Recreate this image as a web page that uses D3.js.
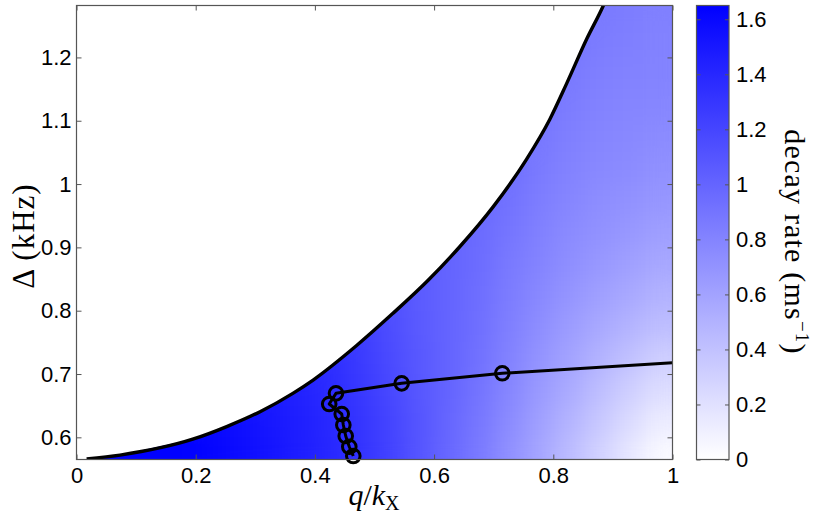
<!DOCTYPE html>
<html><head><meta charset="utf-8">
<script src="https://cdn.jsdelivr.net/npm/d3@7"></script>
<style>
body{margin:0;background:#fff;}
svg{display:block;font-family:"Liberation Sans",Arial,Helvetica,sans-serif;}
</style></head>
<body>
<svg id="chart" width="813" height="527"></svg>
<script>
// ---------- data ----------
// heatmap cell centres (q / k_X) and (Delta in kHz); cells are 0.05 x 0.05
const qCenters = [0.025,0.075,0.125,0.175,0.225,0.275,0.325,0.375,0.425,0.475,0.525,0.575,0.625,0.675,0.725,0.775,0.825,0.875,0.925,0.975];
const deltaCenters = [0.575,0.625,0.675,0.725,0.775,0.825,0.875,0.925,0.975,1.025,1.075,1.125,1.175,1.225,1.275];
// decay rate (ms^-1), one row per Delta, null = no data (above boundary)
const decayRate = [
 [1.65,1.65,1.65,1.65,1.62,1.57,1.52,1.46,1.40,1.32,1.22,1.10,0.98,0.86,0.72,0.58,0.44,0.30,0.16,0.04],
 [null,null,null,null,1.60,1.55,1.50,1.45,1.39,1.31,1.21,1.10,0.99,0.88,0.75,0.62,0.49,0.36,0.24,0.12],
 [null,null,null,null,null,null,1.48,1.43,1.37,1.29,1.19,1.09,1.00,0.90,0.78,0.66,0.55,0.43,0.32,0.22],
 [null,null,null,null,null,null,null,null,1.35,1.27,1.17,1.08,1.00,0.92,0.81,0.70,0.60,0.50,0.41,0.32],
 [null,null,null,null,null,null,null,null,null,1.25,1.15,1.07,1.00,0.93,0.83,0.74,0.65,0.56,0.49,0.42],
 [null,null,null,null,null,null,null,null,null,null,1.13,1.06,1.00,0.94,0.85,0.77,0.69,0.62,0.56,0.50],
 [null,null,null,null,null,null,null,null,null,null,null,1.05,1.00,0.95,0.87,0.80,0.73,0.67,0.62,0.57],
 [null,null,null,null,null,null,null,null,null,null,null,null,1.00,0.96,0.89,0.82,0.76,0.71,0.67,0.63],
 [null,null,null,null,null,null,null,null,null,null,null,null,null,0.97,0.91,0.84,0.79,0.74,0.71,0.68],
 [null,null,null,null,null,null,null,null,null,null,null,null,null,null,0.93,0.86,0.81,0.77,0.75,0.72],
 [null,null,null,null,null,null,null,null,null,null,null,null,null,null,null,0.88,0.83,0.79,0.77,0.75],
 [null,null,null,null,null,null,null,null,null,null,null,null,null,null,null,0.90,0.85,0.81,0.79,0.78],
 [null,null,null,null,null,null,null,null,null,null,null,null,null,null,null,null,0.87,0.83,0.81,0.80],
 [null,null,null,null,null,null,null,null,null,null,null,null,null,null,null,null,0.89,0.85,0.83,0.81],
 [null,null,null,null,null,null,null,null,null,null,null,null,null,null,null,null,null,0.87,0.84,0.82]
];
// boundary curve
const boundaryQ     = [0.017,0.073,0.195,0.252,0.308,0.363,0.397,0.470,0.530,0.590,0.643,0.699,0.755,0.794,0.8225,0.856,0.884,0.890];
const boundaryDelta = [0.5657,0.572,0.597,0.617,0.6405,0.6695,0.6905,0.745,0.795,0.848,0.901,0.964,1.039,1.102,1.159,1.229,1.282,1.295];
// black line with circle markers
const lineQ      = [0.4644,0.4577,0.4517,0.4477,0.445,0.424,0.4354,0.5456,0.7144,1.0];
const lineDelta  = [0.5705,0.5851,0.6021,0.6194,0.6368,0.6526,0.6695,0.6853,0.7011,0.7179];
const lineMarker = [true,true,true,true,true,true,true,true,true,false];
// ticks
const xTicks = [0,0.2,0.4,0.6,0.8,1];
const xTickLabels = ["0","0.2","0.4","0.6","0.8","1"];
const yTicks = [0.6,0.7,0.8,0.9,1.0,1.1,1.2];
const yTickLabels = ["0.6","0.7","0.8","0.9","1","1.1","1.2"];
const cTicks = [0,0.2,0.4,0.6,0.8,1.0,1.2,1.4,1.6];
const cTickLabels = ["0","0.2","0.4","0.6","0.8","1","1.2","1.4","1.6"];

// ---------- layout ----------
const svg = d3.select("#chart");
const L=76.5, R=672.5, T=5.5, B=459.5;
const x = d3.scaleLinear([0,1],[L,R]);
const y = d3.scaleLinear([0.565,1.282],[B,T]);
const cbL=696.5, cbR=729;
const cy = d3.scaleLinear([0,1.65],[B,T]);
const color = d3.scaleLinear([0,1.65],["#ffffff","#0000ff"]).clamp(true);
const axisColor="#555";

const defs = svg.append("defs");
defs.append("clipPath").attr("id","plotClip").append("rect")
  .attr("x",L).attr("y",T).attr("width",R-L).attr("height",B-T);
const area = d3.area().x(d=>x(d[0])).y0(y(0.5)).y1(d=>y(d[1]));
const areaPts = boundaryQ.map((q,i)=>[q,boundaryDelta[i]]).concat([[1.0,boundaryDelta[boundaryDelta.length-1]]]);
defs.append("clipPath").attr("id","areaClip").append("path").attr("d",area(areaPts));
const f = defs.append("filter").attr("id","smooth").attr("filterUnits","userSpaceOnUse")
  .attr("x",0).attr("y",0).attr("width",813).attr("height",527)
  .attr("color-interpolation-filters","sRGB");
f.append("feGaussianBlur").attr("stdDeviation",11);
f.append("feComponentTransfer").append("feFuncA").attr("type","linear").attr("slope",1000).attr("intercept",0);

// heatmap
const cells=[];
deltaCenters.forEach((d,j)=>qCenters.forEach((q,i)=>{
  const v=decayRate[j][i]; if(v!==null) cells.push({q,d,v});
}));
const hw=0.025, hh=0.025;
svg.append("g").attr("clip-path","url(#plotClip)")
 .append("g").attr("clip-path","url(#areaClip)")
 .append("g").attr("filter","url(#smooth)")
 .selectAll("rect").data(cells).join("rect")
  .attr("shape-rendering","crispEdges")
  .attr("x",d=>x(d.q-hw)).attr("y",d=>y(d.d+hh))
  .attr("width",d=>x(d.q+hw)-x(d.q-hw)).attr("height",d=>y(d.d-hh)-y(d.d+hh))
  .attr("fill",d=>color(d.v));

// boundary line and data line
const gPlot = svg.append("g").attr("clip-path","url(#plotClip)");
gPlot.append("path")
  .attr("d",d3.line().curve(d3.curveMonotoneX).x(d=>x(d[0])).y(d=>y(d[1]))(boundaryQ.map((q,i)=>[q,boundaryDelta[i]])))
  .attr("fill","none").attr("stroke","#000").attr("stroke-width",3.4).attr("stroke-linejoin","round");
const linePts = lineQ.map((q,i)=>({q,d:lineDelta[i],m:lineMarker[i]}));
gPlot.append("path")
  .attr("d",d3.line().x(d=>x(d.q)).y(d=>y(d.d))(linePts))
  .attr("fill","none").attr("stroke","#000").attr("stroke-width",3).attr("stroke-linejoin","round");
svg.append("g").selectAll("circle").data(linePts.filter(d=>d.m)).join("circle")
  .attr("cx",d=>x(d.q)).attr("cy",d=>y(d.d)).attr("r",6.8)
  .attr("fill","none").attr("stroke","#000").attr("stroke-width",3);

// axes
function styleAxis(g){
  g.select(".domain").remove();
  g.selectAll(".tick line").attr("stroke",axisColor);
  g.selectAll(".tick text").attr("fill","#000").attr("font-size",22)
   .attr("font-family","'Liberation Sans',Arial,Helvetica,sans-serif");
}
svg.append("g").attr("transform",`translate(0,${B})`)
  .call(d3.axisBottom(x).tickValues(xTicks).tickFormat((d,i)=>xTickLabels[i]).tickSize(-5).tickPadding(8))
  .call(styleAxis);
svg.append("g").attr("transform",`translate(0,${T})`)
  .call(d3.axisBottom(x).tickValues(xTicks).tickFormat("").tickSize(5))
  .call(styleAxis);
svg.append("g").attr("transform",`translate(${L},0)`)
  .call(d3.axisLeft(y).tickValues(yTicks).tickFormat((d,i)=>yTickLabels[i]).tickSize(-5).tickPadding(5))
  .call(styleAxis);
svg.append("g").attr("transform",`translate(${R},0)`)
  .call(d3.axisLeft(y).tickValues(yTicks).tickFormat("").tickSize(5))
  .call(styleAxis);
svg.append("rect").attr("x",L).attr("y",T).attr("width",R-L).attr("height",B-T)
  .attr("fill","none").attr("stroke",axisColor).attr("stroke-width",1.2);

// colorbar
const grad = defs.append("linearGradient").attr("id","cbGrad").attr("x1",0).attr("y1",1).attr("x2",0).attr("y2",0);
d3.range(0,1.0001,0.1).forEach(t=>grad.append("stop").attr("offset",t).attr("stop-color",color(t*1.65)));
svg.append("rect").attr("x",cbL).attr("y",T).attr("width",cbR-cbL).attr("height",B-T)
  .attr("fill","url(#cbGrad)").attr("stroke",axisColor).attr("stroke-width",1.2);
svg.append("g").attr("transform",`translate(${cbR},0)`)
  .call(d3.axisRight(cy).tickValues(cTicks).tickFormat((d,i)=>cTickLabels[i]).tickSize(-4).tickPadding(7))
  .call(styleAxis);
svg.append("g").attr("transform",`translate(${cbL},0)`)
  .call(d3.axisRight(cy).tickValues(cTicks).tickFormat("").tickSize(4))
  .call(styleAxis);

// labels
const serif="'Liberation Serif','DejaVu Serif','Times New Roman',serif";
const xl = svg.append("text").attr("x",374).attr("y",505).attr("text-anchor","middle")
  .attr("font-family",serif).attr("font-size",30);
xl.append("tspan").attr("font-style","italic").text("q");
xl.append("tspan").text("/");
xl.append("tspan").attr("font-style","italic").text("k");
xl.append("tspan").attr("font-size",20).attr("dy",5).text("X");
svg.append("text").attr("transform","translate(34,236) rotate(-90)").attr("text-anchor","middle")
  .attr("font-family",serif).attr("font-size",31).attr("letter-spacing",1).text("Δ (kHz)");
const cl = svg.append("text").attr("transform","translate(785,242) rotate(90)").attr("text-anchor","middle")
  .attr("font-family",serif).attr("font-size",30).attr("letter-spacing",1.2);
cl.append("tspan").text("decay rate (ms");
cl.append("tspan").attr("font-size",19).attr("dy",-11).text("−1");
cl.append("tspan").attr("dy",11).text(")");
</script>
</body></html>
